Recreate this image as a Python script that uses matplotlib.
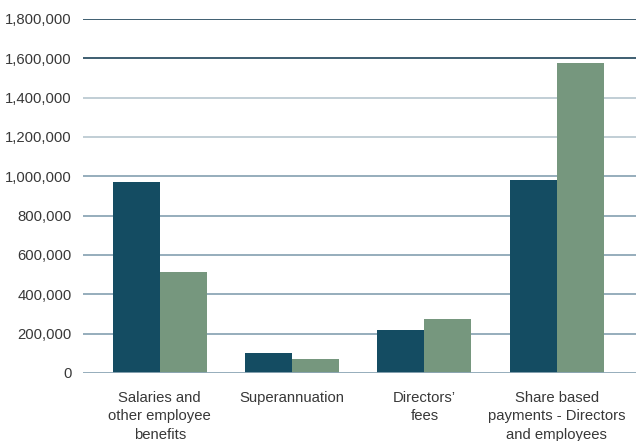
import numpy as np
import matplotlib.pyplot as plt
from matplotlib.ticker import FuncFormatter

plt.rcParams["font.family"] = ["Liberation Sans", "DejaVu Sans"]

# data ------------------------------------------------------------------------
categories = ["Salaries and\nother employee\nbenefits", "Superannuation",
              "Directors\u2019\nfees", "Share based\npayments - Directors\nand employees"]
series_a = [972000, 102000, 219000, 981000]     # dark teal
series_b = [513000, 71000, 275000, 1576000]     # sage green
y_ticks = list(range(0, 1800001, 200000))

# plot ------------------------------------------------------------------------
fig = plt.figure(figsize=(6.36, 4.41), dpi=100)
ax = fig.add_axes([83 / 636, 68 / 441, 553 / 636, 354 / 441])

x = np.arange(len(categories))
w = 0.355
ax.bar(x - w / 2, series_a, w, color="#144C62", zorder=3)
ax.bar(x + w / 2, series_b, w, color="#76977E", zorder=3)

# gridlines: top two dark, then light, then medium
for v in y_ticks:
    if v >= 1600000:
        c = "#2F5266"
    elif v >= 1200000:
        c = "#BCCAD2"
    else:
        c = "#8EA7B6"
    ax.axhline(v, color=c, lw=1.3, zorder=1 if v > 0 else 4)

ax.set_ylim(0, 1800000)
ax.set_xlim(-0.58, 3.6)
ax.set_yticks(y_ticks)
ax.yaxis.set_major_formatter(FuncFormatter(lambda v, p: f"{int(v):,}"))
ax.set_xticks(x)
ax.set_xticklabels(categories, linespacing=1.4)
ax.tick_params(axis="both", length=0, labelsize=10.7, labelcolor="#383838")
ax.tick_params(axis="y", pad=8)
ax.tick_params(axis="x", pad=13)
for s in ax.spines.values():
    s.set_visible(False)

fig.savefig("out.png", dpi=100)
